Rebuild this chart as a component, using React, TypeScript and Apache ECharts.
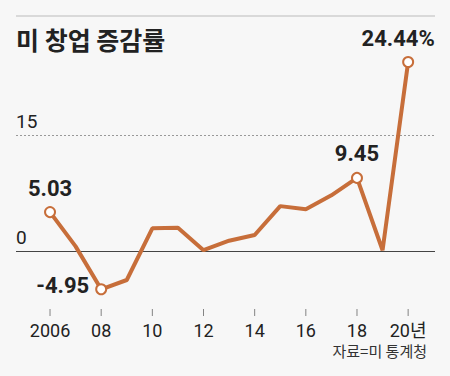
import React, { useEffect, useRef } from "react";
import * as echarts from "echarts";

const years = [2006, 2007, 2008, 2009, 2010, 2011, 2012, 2013, 2014, 2015, 2016, 2017, 2018, 2019, 2020];
const values = [5.03, 0.6, -4.95, -3.75, 2.93, 3.0, 0.1, 1.33, 2.07, 5.8, 5.4, 7.2, 9.45, 0.1, 24.44];
const tickYears = [2006, 2008, 2010, 2012, 2014, 2016, 2018, 2020];
const tickLabels = ["2006", "08", "10", "12", "14", "16", "18", "20년"];
const labeled: Record<number, { text: string; pos: string; offset: number[] }> = {
  2006: { text: "5.03", pos: "top", offset: [0, -2] },
  2008: { text: "-4.95", pos: "left", offset: [-1, -4] },
  2018: { text: "9.45", pos: "top", offset: [0, -2] },
  2020: { text: "24.44%", pos: "top", offset: [-10, -1] },
};

const LINE = "#c76e3a";
const FONT = "Roboto, 'Noto Sans CJK KR', sans-serif";
const Y_MIN = -7.5;

export default function App() {
  const ref = useRef<HTMLDivElement>(null);
  useEffect(() => {
    const chart = echarts.init(ref.current!, null, { renderer: "svg" });
    const data = years.map((y, i) => {
      const l = labeled[y];
      if (!l) return { value: [y, values[i]] };
      return {
        value: [y, values[i]],
        symbol: "circle",
        symbolSize: 10,
        label: {
          show: true,
          position: l.pos,
          offset: l.offset,
          formatter: l.text,
          fontFamily: FONT,
          fontSize: 22,
          fontWeight: "bold",
          color: "#222",
        },
      };
    });
    chart.setOption({
      animation: false,
      backgroundColor: "#f7f7f7",
      textStyle: { fontFamily: FONT },
      grid: { left: 16, right: 15, top: 49.9, bottom: 67 },
      xAxis: {
        type: "value",
        min: 2004.67,
        max: 2021.05,
        splitLine: { show: false },
        axisLine: { show: false },
        axisTick: { show: false },
        axisLabel: {
          customValues: tickYears,
          formatter: (v: number) => tickLabels[tickYears.indexOf(v)] ?? "",
          fontFamily: FONT,
          fontSize: 18,
          color: "#222",
          margin: 12,
        },
      },
      yAxis: {
        type: "value",
        min: Y_MIN,
        max: 26,
        splitLine: { show: false },
        axisLine: { show: false },
        axisTick: { show: false },
        axisLabel: { show: false },
      },
      graphic: [
        { type: "line", shape: { x1: 16, y1: 16, x2: 435, y2: 16 }, style: { stroke: "#bbb", lineWidth: 1 } },
        {
          type: "text",
          left: 16,
          top: 26,
          style: { text: "미 창업 증감률", font: "bold 25px 'Noto Sans CJK KR', sans-serif", fill: "#222" },
        },
        {
          type: "text",
          right: 23,
          top: 343,
          style: { text: "자료=미 통계청", font: "15px 'Noto Sans CJK KR', sans-serif", fill: "#333" },
        },
      ],
      series: [
        {
          type: "scatter",
          data: tickYears.map((y) => [y, Y_MIN]),
          symbol: "rect",
          symbolSize: [1, 7],
          symbolOffset: [0, 3.5],
          itemStyle: { color: "#666" },
          clip: false,
          silent: true,
          z: 1,
        },
        {
          type: "line",
          data,
          symbol: "none",
          lineStyle: { color: LINE, width: 4 },
          itemStyle: { color: "#fff", borderColor: LINE, borderWidth: 2 },
          z: 3,
          markLine: {
            silent: true,
            symbol: "none",
            z: 1,
            data: [
              {
                yAxis: 0,
                lineStyle: { color: "#444", width: 1, type: "solid" },
                label: { show: true, position: "insideStartTop", formatter: "0", fontSize: 19, color: "#222", fontFamily: FONT, distance: [0, 4] },
              },
              {
                yAxis: 15,
                lineStyle: { color: "#999", width: 1, type: [2, 2] },
                label: { show: true, position: "insideStartTop", formatter: "15", fontSize: 19, color: "#222", fontFamily: FONT, distance: [0, 4] },
              },
            ],
          },
        },
      ],
    });
    return () => chart.dispose();
  }, []);
  return <div ref={ref} style={{ width: 450, height: 376, position: "absolute", left: 0, top: 0 }} />;
}
